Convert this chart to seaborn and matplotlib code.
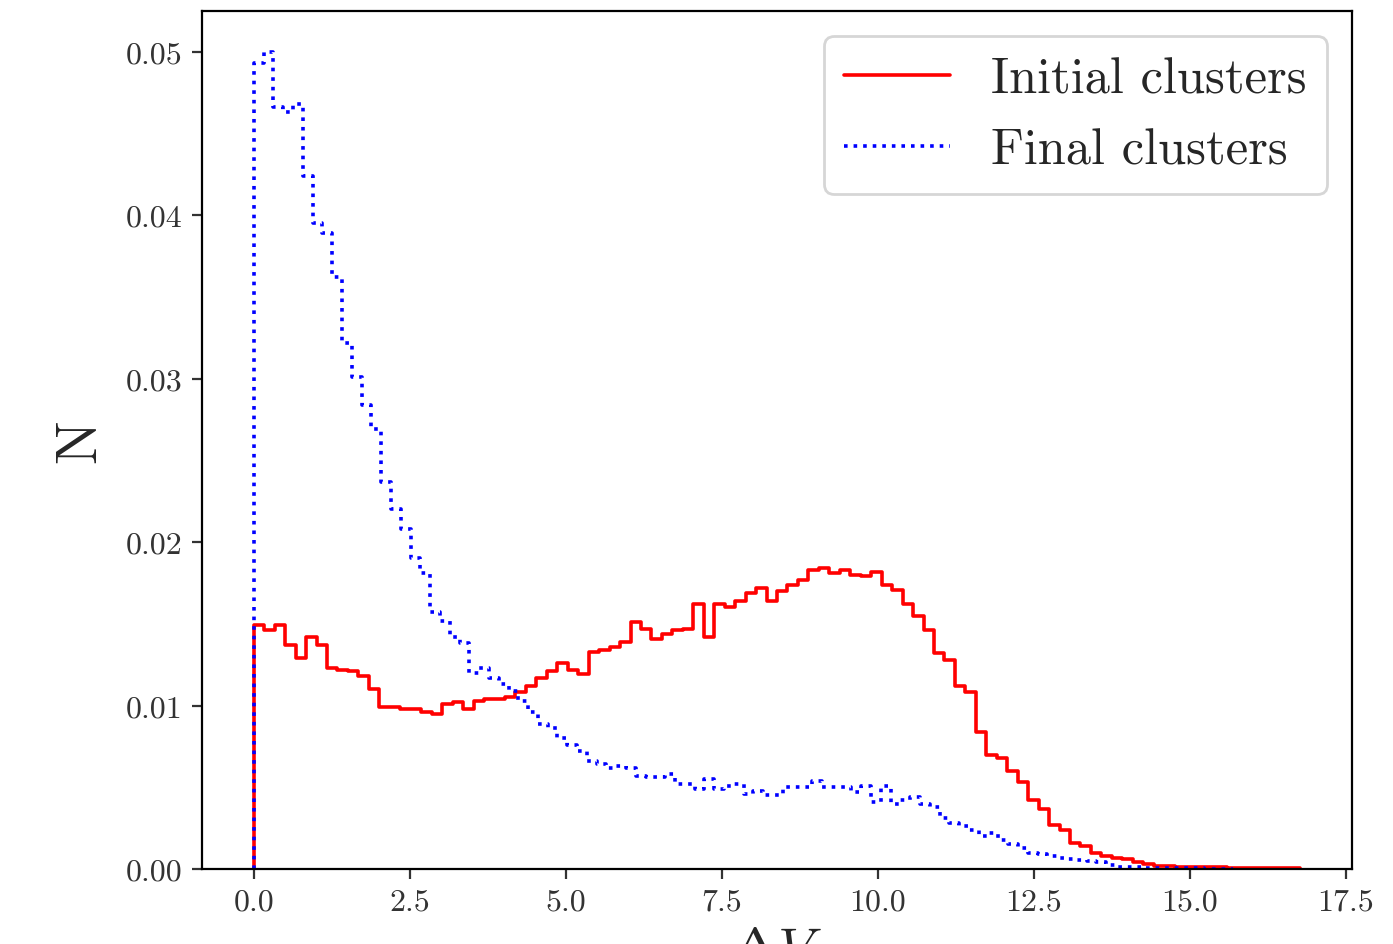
import numpy as np
import pandas as pd
import matplotlib
matplotlib.use("Agg")
import matplotlib.pyplot as plt
import seaborn as sns

# ---- data (normalised histogram heights, 100 bins each) ----
initial_max = 16.77   # upper edge of the "Initial clusters" bins
final_max = 15.70     # upper edge of the "Final clusters" bins

initial_heights = [
    0.0149, 0.0146, 0.0149, 0.0137, 0.0129, 0.0142, 0.0137, 0.0123, 0.0122, 0.0121,
    0.0118, 0.0110, 0.0099, 0.0099, 0.0098, 0.0098, 0.0096, 0.0095, 0.0101, 0.0102,
    0.0098, 0.0103, 0.0104, 0.0104, 0.0105, 0.0108, 0.0112, 0.0117, 0.0121, 0.0126,
    0.0122, 0.0119, 0.0133, 0.0134, 0.0136, 0.0139, 0.0151, 0.0147, 0.0141, 0.0144,
    0.0146, 0.0147, 0.0162, 0.0142, 0.0162, 0.0160, 0.0164, 0.0169, 0.0172, 0.0164,
    0.0170, 0.0174, 0.0177, 0.0183, 0.0184, 0.0181, 0.0183, 0.0180, 0.0179, 0.0182,
    0.0174, 0.0171, 0.0162, 0.0155, 0.0146, 0.0132, 0.0128, 0.0112, 0.0108, 0.0084,
    0.0070, 0.0068, 0.0060, 0.0053, 0.0042, 0.0037, 0.0027, 0.0024, 0.0016, 0.0014,
    0.0010, 0.0008, 0.0007, 0.0006, 0.0004, 0.0003, 0.0002, 0.0002, 0.00015, 0.00015,
    0.0001, 0.0001, 0.0001, 0.00008, 0.00008, 0.00006, 0.00006, 0.00005, 0.00005, 0.00004,
]

final_heights = [
    0.0493, 0.0500, 0.0466, 0.0463, 0.0468, 0.0424, 0.0395, 0.0389, 0.0362, 0.0322,
    0.0301, 0.0284, 0.0269, 0.0237, 0.0220, 0.0208, 0.0190, 0.0181, 0.0157, 0.0152,
    0.0142, 0.0138, 0.0120, 0.0123, 0.0117, 0.0113, 0.0109, 0.0103, 0.0096, 0.0089,
    0.0086, 0.0080, 0.0076, 0.0072, 0.0066, 0.0064, 0.0062, 0.0063, 0.0062, 0.0057,
    0.0056, 0.0056, 0.0058, 0.0052, 0.0052, 0.0049, 0.0055, 0.0049, 0.0051, 0.0052,
    0.0046, 0.0048, 0.0045, 0.0045, 0.0050, 0.0050, 0.0050, 0.0054, 0.0050, 0.0050,
    0.0050, 0.0047, 0.0051, 0.0041, 0.0051, 0.0040, 0.0042, 0.0044, 0.0040, 0.0038,
    0.0031, 0.0028, 0.0026, 0.0024, 0.0020, 0.0022, 0.0018, 0.0015, 0.0013, 0.0010,
    0.0009, 0.0008, 0.0007, 0.0006, 0.00055, 0.0005, 0.0004, 0.00026, 0.00014, 0.0001,
    0.0001, 0.00008, 0.00006, 0.00005, 0.00004, 0.00003, 0.00003, 0.00002, 0.00002, 0.00001,
]

labels = ["Initial clusters", "Final clusters"]
x_label = r"$\Delta V$"
y_label = "N"
x_ticks = [0.0, 2.5, 5.0, 7.5, 10.0, 12.5, 15.0, 17.5]
y_ticks = [0.00, 0.01, 0.02, 0.03, 0.04, 0.05]

# ---- style ----
sns.set_style("ticks")
plt.rcParams.update({
    "font.family": "serif",
    "font.serif": ["cmr10", "DejaVu Serif"],
    "mathtext.fontset": "cm",
    "axes.formatter.use_mathtext": True,
    "axes.edgecolor": "black",
    "xtick.color": "#333333",
    "ytick.color": "#333333",
    "axes.linewidth": 0.8,
})

fig = plt.figure(figsize=(13.93 / 2, 9.45 / 2), dpi=200)
ax = fig.add_axes([0.145, 0.0794, 0.8256, 0.9079])


def step_outline(heights, vmax):
    """Closed step outline of a histogram (like histtype='step')."""
    h = np.asarray(heights, dtype=float)
    edges = np.linspace(0.0, vmax, len(h) + 1)
    xs = np.concatenate([[edges[0]], edges])
    ys = np.concatenate([[0.0], h, [0.0]])
    return pd.DataFrame({"x": xs, "y": ys})


df_init = step_outline(initial_heights, initial_max)
df_fin = step_outline(final_heights, final_max)

sns.lineplot(data=df_init, x="x", y="y", estimator=None, sort=False,
             drawstyle="steps-post", color="red", linewidth=1.3,
             label=labels[0], ax=ax)
sns.lineplot(data=df_fin, x="x", y="y", estimator=None, sort=False,
             drawstyle="steps-post", color="blue", linewidth=1.3,
             linestyle=":", label=labels[1], ax=ax)

ax.set_xticks(x_ticks)
ax.set_yticks(y_ticks)
ax.xaxis.set_major_formatter(matplotlib.ticker.FormatStrFormatter("%.1f"))
ax.yaxis.set_major_formatter(matplotlib.ticker.FormatStrFormatter("%.2f"))
ax.tick_params(labelsize=11.5, direction="out", length=3.5, width=0.8)
ax.set_xlim(-0.83, 17.6)
ax.set_ylim(0, 0.0525)
ax.set_xlabel(x_label, fontsize=20)
ax.set_ylabel(y_label, fontsize=21, labelpad=7)
for s in ax.spines.values():
    s.set_visible(True)

leg = ax.legend(loc="upper right", fontsize=18.2, frameon=True, fancybox=True,
                framealpha=0.8, edgecolor="#cccccc", handlelength=2.1)

fig.savefig("out.png", dpi=200)
